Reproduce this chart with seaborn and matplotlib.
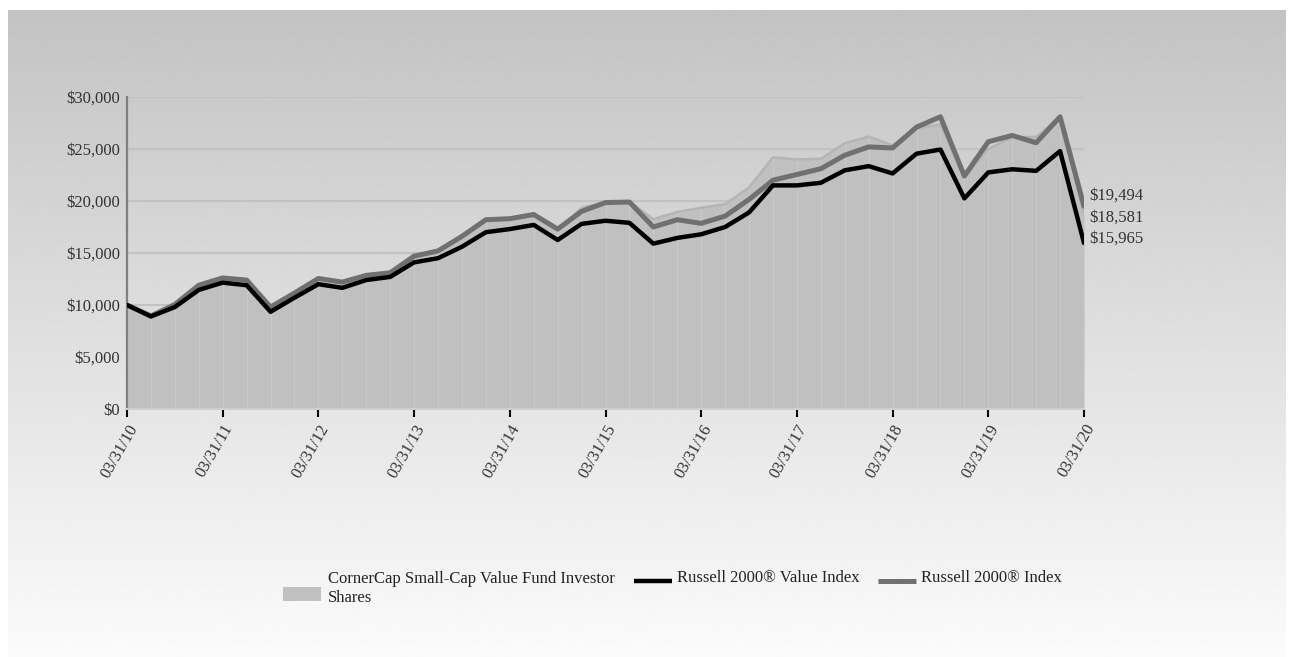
import numpy as np
import pandas as pd
import matplotlib
matplotlib.use("Agg")
import matplotlib.pyplot as plt
import seaborn as sns
from matplotlib.lines import Line2D
from matplotlib.patches import Rectangle

# ---------------- data ----------------
quarters = list(range(41))
year_labels = ['03/31/10', '03/31/11', '03/31/12', '03/31/13', '03/31/14', '03/31/15',
               '03/31/16', '03/31/17', '03/31/18', '03/31/19', '03/31/20']
fund = [10000, 8950, 10100, 12000, 12700, 12350, 9850, 11250, 12500, 12100, 12750, 13000,
        14600, 15100, 16500, 18300, 18350, 18650, 17150, 19350, 19900, 19950, 18250, 18950,
        19350, 19700, 21300, 24200, 24000, 24050, 25550, 26200, 25350, 27000, 27350, 22300,
        25000, 26150, 26150, 28100, 18581]
r2000_value = [10000, 8900, 9800, 11450, 12150, 11900, 9350, 10700, 12000, 11650, 12400, 12700,
               14100, 14500, 15600, 17000, 17300, 17700, 16250, 17800, 18100, 17900, 15900, 16450,
               16800, 17500, 18900, 21500, 21500, 21750, 22950, 23350, 22650, 24550, 24950, 20250,
               22750, 23050, 22900, 24800, 15965]
r2000 = [10000, 8950, 10050, 11900, 12600, 12400, 9800, 11150, 12550, 12200, 12850, 13100,
         14700, 15200, 16600, 18200, 18300, 18700, 17300, 19000, 19850, 19900, 17500, 18200,
         17850, 18550, 20150, 22000, 22550, 23100, 24400, 25200, 25100, 27100, 28100, 22400,
         25700, 26300, 25600, 28100, 19494]
series_names = ["CornerCap Small-Cap Value Fund Investor Shares",
                "Russell 2000® Value Index", "Russell 2000® Index"]
yticks = [0, 5000, 10000, 15000, 20000, 25000, 30000]

df = pd.DataFrame({"q": quarters, "fund": fund, "value": r2000_value, "r2000": r2000})

# ---------------- style ----------------
sns.set_theme(style="white")
plt.rcParams['font.family'] = ['Liberation Serif', 'DejaVu Serif']
FS = 12

W, H = 1294, 657
fig = plt.figure(figsize=(W / 100, H / 100), dpi=100)
fig.patch.set_facecolor("white")

# background gradient panel
bg = fig.add_axes([8 / W, 0, (1286 - 8) / W, (H - 10) / H], zorder=-10)
grad = np.linspace(195, 251, 300).reshape(-1, 1)
bg.imshow(grad, cmap="gray", vmin=0, vmax=255, aspect="auto", extent=[0, 1, 0, 1], origin="upper")
bg.set_axis_off()

ax = fig.add_axes([127 / W, 1 - 409 / H, (1084 - 127) / W, (409 - 97) / H])
ax.set_facecolor("none")

# gridlines
for y in yticks[1:]:
    ax.axhline(y, color="#c2c2c2", lw=1.6, zorder=0)

# fund area
ax.fill_between(df["q"], 0, df["fund"], color="#c0c0c0", lw=0, zorder=1)
ax.vlines(df["q"][1:-1], 0, df["fund"][1:-1], color="#c9c9c9", lw=0.8, zorder=1.5)
sns.lineplot(data=df, x="q", y="fund", ax=ax, color="#b5b5b5", lw=1.8, zorder=2)
sns.lineplot(data=df, x="q", y="r2000", ax=ax, color="#707070", lw=3.6, zorder=3)
sns.lineplot(data=df, x="q", y="value", ax=ax, color="#000000", lw=3.2, zorder=4)

ax.set_xlim(0, 40)
ax.set_ylim(0, 30000)
ax.set_xlabel("")
ax.set_ylabel("")
ax.set_yticks(yticks)
ax.set_yticklabels([f"${v:,.0f}" for v in yticks], fontsize=FS, color="#333333")
ax.set_xticks(quarters[::4])
ax.set_xticklabels(year_labels, rotation=60, ha="right", va="top", rotation_mode="anchor",
                   fontsize=FS, color="#333333")
ax.tick_params(axis="y", length=0, pad=5)
ax.tick_params(axis="x", length=6, width=1.5, color="black", direction="out", pad=3, bottom=True)

for s in ["top", "right"]:
    ax.spines[s].set_visible(False)
ax.spines["left"].set_color("#808080")
ax.spines["left"].set_linewidth(1.6)
ax.spines["bottom"].set_color("#cfcfcf")
ax.spines["bottom"].set_linewidth(1.5)

# end labels
ends = [(r2000[-1], 8), (fund[-1], -1), (r2000_value[-1], 3)]
for v, dy in ends:
    ax.annotate(f"${v:,.0f}", xy=(40, v), xytext=(4, dy), textcoords="offset points",
                ha="left", va="center", fontsize=FS, color="#333333", annotation_clip=False)

# legend (manual)
def fx(px):
    return px / W
def fy(py):
    return 1 - py / H

fig.add_artist(Rectangle((fx(283), fy(601)), fx(321) - fx(283), fy(587) - fy(601),
                         transform=fig.transFigure, facecolor="#c0c0c0", edgecolor="none"))
fig.text(fx(328), fy(579), "CornerCap Small-Cap Value Fund Investor", fontsize=FS,
         ha="left", va="center", color="#222222")
fig.text(fx(328), fy(598), "Shares", fontsize=FS, ha="left", va="center", color="#222222")
fig.add_artist(Line2D([fx(634), fx(672)], [fy(581), fy(581)], transform=fig.transFigure,
                      color="black", lw=3.2, solid_capstyle="butt"))
fig.text(fx(677), fy(578), series_names[1], fontsize=FS, ha="left", va="center", color="#222222")
fig.add_artist(Line2D([fx(878), fx(916)], [fy(581), fy(581)], transform=fig.transFigure,
                      color="#707070", lw=3.6, solid_capstyle="butt"))
fig.text(fx(921), fy(578), series_names[2], fontsize=FS, ha="left", va="center", color="#222222")

fig.savefig("out.png", dpi=100)
